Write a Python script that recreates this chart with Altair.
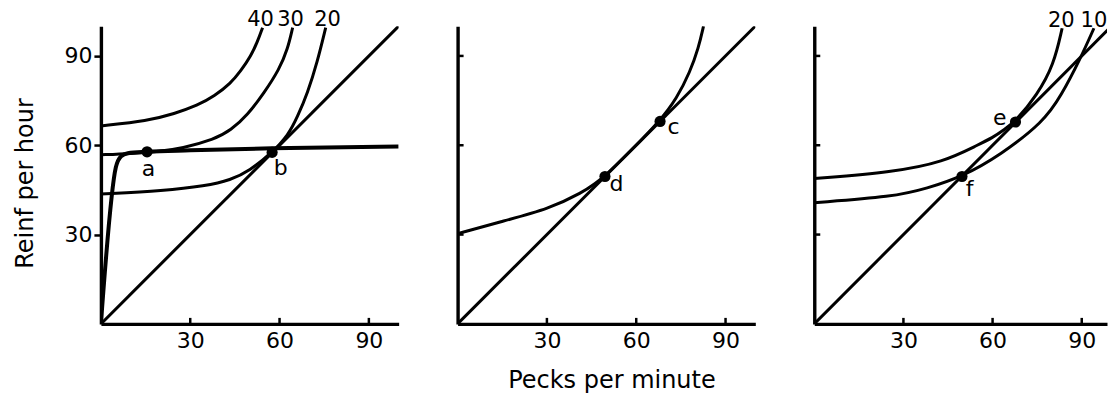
import altair as alt
import pandas as pd

FONT = "DejaVu Sans"

# ---------------- data ----------------
tick_vals = [30, 60, 90]
diag_x = [0, 100]
diag_y = [0, 100]

# Panel 1
p1_feed_x = [0, 5, 6.8, 9, 15.5, 30, 57.5, 100]
p1_feed_y = [0, 52.5, 56.3, 57.3, 57.8, 58.3, 59.0, 59.6]
p1_c40_x = [0, 15.8, 24.7, 32.5, 38.1, 43.6, 47, 50.4, 52.6, 54.3]
p1_c40_y = [66.5, 68.2, 70.6, 73.4, 76.5, 80.8, 85.0, 90.0, 94.8, 99.5]
p1_c30_x = [0, 10, 20, 27, 38.1, 43.6, 49.3, 54.9, 59.9, 62.7, 64.4]
p1_c30_y = [56.8, 57.2, 58, 58.9, 62, 65.0, 70.2, 77.7, 85.5, 92.2, 99.5]
p1_c20_x = [0, 21.3, 35, 43.6, 50, 57.5, 63, 66, 69.4, 72.7, 75.5]
p1_c20_y = [43.6, 44.7, 46.3, 48.3, 51.5, 57.5, 63.5, 69.5, 77.5, 88, 99.5]
p1_pts_x = [15.5, 57.5]
p1_pts_y = [57.8, 57.6]
p1_pt_lab = ["a", "b"]
p1_lab_x = [16, 60.4]
p1_lab_y = [52, 52.5]
p1_curve_lab = ["40", "30", "20"]
p1_curve_lab_x = [53.6, 63.7, 76.1]
p1_curve_lab_y = [102.2, 102.2, 102.2]

# Panel 2
p2_c_x = [0, 14.1, 31, 42.2, 46, 49.5, 58, 68, 73.6, 78.1, 80.9, 82.6]
p2_c_y = [30.3, 34.2, 38.7, 44.3, 47, 49.6, 58, 68.2, 75.7, 84.7, 92.6, 100]
p2_pts_x = [68, 49.5]
p2_pts_y = [68, 49.5]
p2_pt_lab = ["c", "d"]
p2_lab_x = [72.5, 53.4]
p2_lab_y = [66.2, 47.1]

# Panel 3
p3_c20_x = [0, 26.7, 43.5, 54.8, 60, 64, 67.7, 75, 80.6, 83.4]
p3_c20_y = [48.8, 51, 54.4, 60, 62.5, 65.3, 68.0, 76.9, 87, 99.3]
p3_c10_x = [0, 26.7, 37.9, 49.7, 62.6, 77.2, 83, 89.6, 94.1]
p3_c10_y = [40.7, 42.7, 45.5, 49.4, 56.7, 67.9, 76.5, 89.2, 99.3]
p3_pts_x = [67.7, 49.7]
p3_pts_y = [67.8, 49.5]
p3_pt_lab = ["e", "f"]
p3_lab_x = [62.4, 52.3]
p3_lab_y = [69, 45.2]
p3_curve_lab = ["20", "10"]
p3_curve_lab_x = [83.1, 94.1]
p3_curve_lab_y = [101.7, 101.7]

W = 298
H = 298
W3 = 293


def curves(*pairs):
    rows = []
    for name, xs, ys in pairs:
        for i, (x, y) in enumerate(zip(xs, ys)):
            rows.append({"s": name, "x": x, "y": y, "o": i})
    return pd.DataFrame(rows)


def panel(xmax, width, lines, thick, pts, labs, clabs, show_y, xtitle):
    xs = alt.Scale(domain=[0, xmax], nice=False, zero=False)
    ys = alt.Scale(domain=[0, 100], nice=False, zero=False)
    xaxis = alt.Axis(values=tick_vals, ticks=False, grid=False, domainWidth=3.4,
                     domainColor="black", labelFontSize=22, labelFont=FONT,
                     labelColor="black", labelPadding=7, labelAngle=0,
                     title=xtitle if xtitle else None, titleFont=FONT,
                     titleFontSize=24, titleFontWeight="normal",
                     titleColor="black", titlePadding=17, titleX=width / 2 + 5)
    if show_y:
        yaxis = alt.Axis(values=tick_vals, ticks=True, tickSize=7, tickWidth=2.5,
                         tickColor="black", grid=False, domainWidth=3.4,
                         domainColor="black", labelFontSize=22, labelFont=FONT,
                         labelColor="black", labelPadding=2,
                         title="Reinf per hour", titleFont=FONT,
                         titleFontSize=24, titleFontWeight="normal",
                         titleColor="black", titlePadding=26, titleY=H / 2 + 8)
    else:
        yaxis = alt.Axis(values=tick_vals, ticks=False, labels=False, grid=False,
                         domainWidth=3.4, domainColor="black", title=None)

    base_lines = alt.Chart(lines).mark_line(
        color="black", strokeWidth=3.0, interpolate="basis", clip=True
    ).encode(
        x=alt.X("x:Q", scale=xs, axis=xaxis),
        y=alt.Y("y:Q", scale=ys, axis=yaxis),
        detail="s:N",
        order="o:Q",
    )
    layers = [base_lines]
    if thick is not None:
        layers.append(alt.Chart(thick).mark_line(
            color="black", strokeWidth=4.0, interpolate="monotone", clip=True
        ).encode(x=alt.X("x:Q", scale=xs), y=alt.Y("y:Q", scale=ys), order="o:Q"))
    ticks_df = pd.DataFrame({"v": tick_vals})
    layers.append(alt.Chart(ticks_df).mark_rule(color="black", strokeWidth=2.5).encode(
        x=alt.X("v:Q", scale=xs), y=alt.value(H), y2=alt.value(H - 6)))
    if not show_y:
        layers.append(alt.Chart(ticks_df).mark_rule(color="black", strokeWidth=2.5).encode(
            y=alt.Y("v:Q", scale=ys), x=alt.value(0), x2=alt.value(6)))
    layers.append(alt.Chart(pts).mark_circle(color="black", opacity=1, size=125).encode(
        x=alt.X("x:Q", scale=xs), y=alt.Y("y:Q", scale=ys)))
    layers.append(alt.Chart(labs).mark_text(color="black", font=FONT, fontSize=22,
                                            baseline="middle", align="center").encode(
        x=alt.X("x:Q", scale=xs), y=alt.Y("y:Q", scale=ys), text="t:N"))
    if clabs is not None:
        layers.append(alt.Chart(clabs).mark_text(color="black", font=FONT, fontSize=21,
                                                 baseline="middle", align="center").encode(
            x=alt.X("x:Q", scale=xs), y=alt.Y("y:Q", scale=ys), text="t:N"))
    return alt.layer(*layers).properties(width=width, height=H)


p1 = panel(
    100, W,
    curves(("diag", diag_x, diag_y), ("c40", p1_c40_x, p1_c40_y),
           ("c30", p1_c30_x, p1_c30_y), ("c20", p1_c20_x, p1_c20_y)),
    curves(("feed", p1_feed_x, p1_feed_y)),
    pd.DataFrame({"x": p1_pts_x, "y": p1_pts_y}),
    pd.DataFrame({"x": p1_lab_x, "y": p1_lab_y, "t": p1_pt_lab}),
    pd.DataFrame({"x": p1_curve_lab_x, "y": p1_curve_lab_y, "t": p1_curve_lab}),
    True, None,
)
p2 = panel(
    100, W,
    curves(("diag", diag_x, diag_y), ("c", p2_c_x, p2_c_y)),
    None,
    pd.DataFrame({"x": p2_pts_x, "y": p2_pts_y}),
    pd.DataFrame({"x": p2_lab_x, "y": p2_lab_y, "t": p2_pt_lab}),
    None,
    False, "Pecks per minute",
)
p3 = panel(
    98.5, W3,
    curves(("diag", diag_x, diag_y), ("c20", p3_c20_x, p3_c20_y),
           ("c10", p3_c10_x, p3_c10_y)),
    None,
    pd.DataFrame({"x": p3_pts_x, "y": p3_pts_y}),
    pd.DataFrame({"x": p3_lab_x, "y": p3_lab_y, "t": p3_pt_lab}),
    pd.DataFrame({"x": p3_curve_lab_x, "y": p3_curve_lab_y, "t": p3_curve_lab}),
    False, None,
)

chart = alt.hconcat(p1, p2, p3, spacing=57).properties(
    padding={"left": 14, "top": 8, "right": 0, "bottom": 0},
    background="white",
).configure_view(stroke=None)

chart.save("out.html", embed_options={"renderer": "svg", "actions": False})
